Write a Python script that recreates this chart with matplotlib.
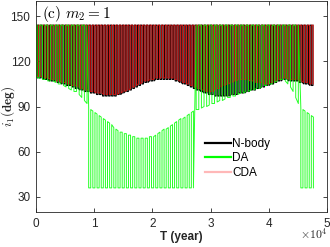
import numpy as np
import matplotlib
matplotlib.use("Agg")
import matplotlib.pyplot as plt

# envelope values (time in years, inclination in deg)
top_val = 144.0
bottom_val = 36.0
t_end = 47800

nbody_t = [0, 3400, 6000, 8600, 12000, 14000, 16000, 18500, 21000, 23500, 25500,
           27700, 30000, 32500, 36000, 39700, 42500, 45000, 47800]
nbody_low = [110, 107, 104, 100.5, 97.5, 98, 101, 106, 108.5, 108.5, 105.5,
             101.7, 98.2, 97.3, 100, 104.3, 108.5, 107, 104]

cda_t = [0, 3400, 6000, 8600, 12000, 14000, 16000, 18500, 21000, 23500, 25500,
         27700, 30000, 32500, 35300, 39700, 42500, 45000, 47800]
cda_low = [111, 108, 105, 101.5, 98.5, 99, 102, 107, 109.5, 109.5, 106.5,
           102.7, 100, 105, 109, 105.3, 109.5, 108, 105]

# DA, four regimes
da1_t = [0, 3000, 5000, 7000, 9000]
da1_low = [110, 107, 104, 100, 91]
da2_t = [9050, 11500, 14300, 17200, 18500, 20000, 22000, 24500, 27200]
da2_high = [89.6, 83, 74, 70, 69.5, 70.5, 75, 81, 88]
da3_t = [27300, 30000, 35000, 40000, 42500, 44000, 45400]
da3_low = [88, 92, 99, 105, 109, 102, 90]
da4_t = [45500, 47800]
da4_high = [89, 83]

x_ticks = [0, 10000, 20000, 30000, 40000, 50000]
x_ticklabels = ['0', '1', '2', '3', '4', '5']
y_ticks = [30, 60, 90, 120, 150]


def square(t0, t1, step, hi_t, hi_v, lo_t, lo_v, offset=0):
    # fast oscillation: a vertical swing at every step, dwelling on the envelopes
    t = np.arange(t0 + offset, t1, step)
    hi = np.interp(t, hi_t, hi_v)
    lo = np.interp(t, lo_t, lo_v)
    tt = np.repeat(t, 2)
    yy = np.empty_like(tt)
    k = np.arange(len(t))
    yy[0::2] = np.where(k % 2 == 0, hi, lo)
    yy[1::2] = np.where(k % 2 == 0, lo, hi)
    return tt, yy


flat_t = [0, t_end]
top = [top_val, top_val]
bot = [bottom_val, bottom_val]

tb, yb = square(0, t_end, 260, flat_t, top, nbody_t, nbody_low)
tc, yc = square(0, t_end, 330, flat_t, top, cda_t, cda_low, offset=110)

parts = [square(0, 9050, 450, flat_t, top, da1_t, da1_low, offset=220),
         square(9050, 27300, 360, da2_t, da2_high, flat_t, bot, offset=0),
         square(27300, 45500, 450, flat_t, top, da3_t, da3_low, offset=220),
         square(45500, t_end, 360, da4_t, da4_high, flat_t, bot, offset=0)]
tg = np.concatenate([p[0] for p in parts])
yg = np.concatenate([p[1] for p in parts])

plt.rcParams['font.family'] = ['Liberation Sans', 'DejaVu Sans']
plt.rcParams['mathtext.fontset'] = 'cm'

fig = plt.figure(figsize=(3.3, 2.47), dpi=100)
ax = fig.add_axes([0.109, 0.1417, 0.882, 0.854])

lb, = ax.plot(tb, yb, color='k', lw=0.85, label='N-body', zorder=1.5)
lc, = ax.plot(tc, yc, color='r', lw=0.7, alpha=0.75, label='CDA', zorder=2)
lg, = ax.plot(tg, yg, color=(0, 1, 0), lw=0.7, alpha=0.85, label='DA', zorder=3)

ax.set_xlim(0, 50000)
ax.set_ylim(20, 160)
ax.set_xticks(x_ticks)
ax.set_xticklabels(x_ticklabels)
ax.set_yticks(y_ticks)
ax.tick_params(direction='in', top=True, right=True, length=3, width=0.6,
               labelsize=8.5, colors='0.15', pad=4)
for s in ax.spines.values():
    s.set_color('0.15')
    s.set_linewidth(0.6)

ax.set_xlabel('T (year)', fontsize=8.5, fontweight='bold', color='0.15', labelpad=1)
ax.set_ylabel(r'$i_1\mathbf{(deg)}$', fontsize=9.5, color='0.15')
ax.yaxis.set_label_coords(-0.066, 0.5)
ax.text(1.0, -0.075, r'$\times\mathsf{10^{4}}$', transform=ax.transAxes,
        ha='right', va='top', fontsize=8.5, color='0.15')
ax.text(0.02, 0.985, r'$\mathrm{(c)}\ m_2=1$', transform=ax.transAxes,
        ha='left', va='top', fontsize=11)

leg = ax.legend([lb, lg, lc], ['N-body', 'DA', 'CDA'], loc='lower left',
                bbox_to_anchor=(0.56, 0.13), frameon=False,
                fontsize=8.5, handlelength=2.2, handletextpad=0.1,
                labelspacing=0.2, borderpad=0)
for h in leg.get_lines():
    h.set_linewidth(1.6)
    h.set_alpha(None)
leg.get_lines()[2].set_color((1, 0.72, 0.72))

fig.savefig('out.png', dpi=100)
